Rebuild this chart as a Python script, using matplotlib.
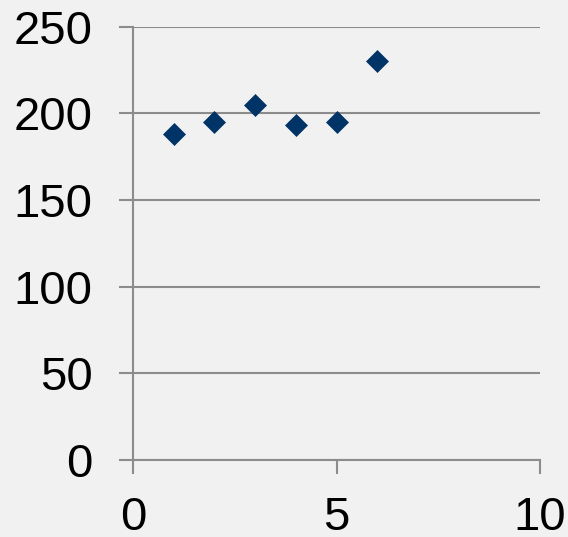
import matplotlib
matplotlib.use("Agg")
import matplotlib.pyplot as plt

x_vals = [1, 2, 3, 4, 5, 6]
y_vals = [188, 195, 205, 193, 195, 230]
x_ticks = [0, 5, 10]
y_ticks = [0, 50, 100, 150, 200, 250]

bg = "#f1f1f1"
grey = "#8c8c8c"
navy = "#003366"

plt.rcParams["font.family"] = ["Liberation Sans", "DejaVu Sans"]

fig = plt.figure(figsize=(5.68, 5.37), dpi=100, facecolor=bg)
ax = fig.add_axes([0.2342, 0.1434, 0.7165, 0.8069])
ax.set_facecolor(bg)

ax.scatter(x_vals, y_vals, marker="D", s=125, color=navy, edgecolors=navy,
           linewidths=0.5, zorder=3, clip_on=False)

ax.set_xlim(0, 10)
ax.set_ylim(0, 250)
ax.set_xticks(x_ticks)
ax.set_yticks(y_ticks)

ax.yaxis.grid(True, color=grey, linewidth=1.5)
ax.set_axisbelow(True)
for s in ["top", "right"]:
    ax.spines[s].set_visible(False)
for s in ["left", "bottom"]:
    ax.spines[s].set_color(grey)
    ax.spines[s].set_linewidth(1.5)

ax.tick_params(axis="both", colors=grey, width=1.5, length=10, direction="out",
               labelsize=34, labelcolor="black", pad=19)
ax.tick_params(axis="x", pad=16)

fig.savefig("out.png", dpi=100, facecolor=bg)
